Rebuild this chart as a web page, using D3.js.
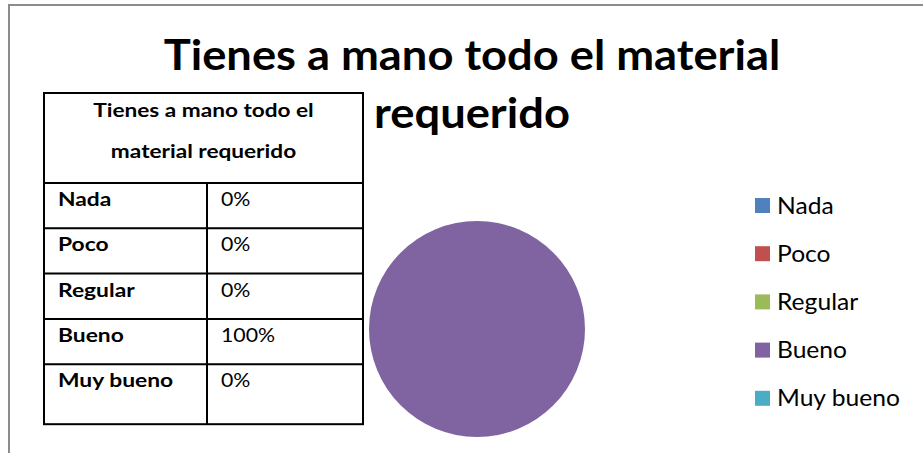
<!DOCTYPE html>
<html>
<head>
<meta charset="utf-8">
<script src="https://cdn.jsdelivr.net/npm/d3@7"></script>
<style>
  body { margin: 0; background: #fff; }
  svg { display: block; font-family: Lato, "Open Sans", sans-serif; }
</style>
</head>
<body>
<div id="chart"></div>
<script>
// datos
var categorias = ["Nada", "Poco", "Regular", "Bueno", "Muy bueno"];
var porcentajes = [0, 0, 0, 100, 0];
var colores = ["#4F81BD", "#C0504D", "#9BBB59", "#8064A2", "#4BACC6"];
var tituloLineas = ["Tienes a mano todo el material", "requerido"];
var tablaTitulo = ["Tienes a mano todo el", "material requerido"];

var width = 923,
    height = 453;

var svg = d3
    .select("#chart")
    .append("svg")
    .attr("width", width)
    .attr("height", height);

// ensancha el texto (la fuente original es mas ancha que Lato aqui)
function stretch(sel, k) {
    sel.each(function () {
        var w = this.getComputedTextLength();
        d3.select(this)
            .attr("textLength", w * k)
            .attr("lengthAdjust", "spacingAndGlyphs");
    });
}

// marco exterior
svg.append("rect")
    .attr("x", 9)
    .attr("y", 5)
    .attr("width", 930)
    .attr("height", 470)
    .attr("fill", "none")
    .attr("stroke", "#8c8c8c")
    .attr("stroke-width", 2);

// titulo
svg.append("g")
    .selectAll("text")
    .data(tituloLineas)
    .enter()
    .append("text")
    .attr("x", 472)
    .attr("y", function (d, i) { return 70 + i * 58; })
    .attr("text-anchor", "middle")
    .attr("font-size", 42)
    .attr("font-weight", "bold")
    .attr("fill", "#000")
    .text(function (d) { return d; })
    .call(stretch, 1.078);

// tabla
var tabla = { left: 44, right: 363, col: 207, top: 93, head: 183, rowH: 45.3, lastH: 60 };

var filas = d3.scaleBand()
    .domain(categorias.slice(0, -1))
    .range([tabla.head, tabla.head + tabla.rowH * (categorias.length - 1)]);

var gT = svg.append("g");

gT.append("rect")
    .attr("x", tabla.left)
    .attr("y", tabla.top)
    .attr("width", tabla.right - tabla.left)
    .attr("height", filas.range()[1] + tabla.lastH - tabla.top)
    .attr("fill", "none")
    .attr("stroke", "#000")
    .attr("stroke-width", 2);

function rowTop(d, i) {
    return tabla.head + i * tabla.rowH;
}

gT.selectAll("line.fila")
    .data(categorias)
    .enter()
    .append("line")
    .attr("class", "fila")
    .attr("x1", tabla.left)
    .attr("x2", tabla.right)
    .attr("y1", rowTop)
    .attr("y2", rowTop)
    .attr("stroke", "#000")
    .attr("stroke-width", 2);

gT.append("line")
    .attr("x1", tabla.col)
    .attr("x2", tabla.col)
    .attr("y1", tabla.head)
    .attr("y2", filas.range()[1] + tabla.lastH)
    .attr("stroke", "#000")
    .attr("stroke-width", 2);

gT.selectAll("text.head")
    .data(tablaTitulo)
    .enter()
    .append("text")
    .attr("class", "head")
    .attr("x", (tabla.left + tabla.right) / 2)
    .attr("y", function (d, i) { return 117 + i * 41; })
    .attr("text-anchor", "middle")
    .attr("font-size", 19)
    .attr("font-weight", "bold")
    .text(function (d) { return d; })
    .call(stretch, 1.19);

gT.selectAll("text.cat")
    .data(categorias)
    .enter()
    .append("text")
    .attr("class", "cat")
    .attr("x", 58)
    .attr("y", function (d, i) { return rowTop(d, i) + 23; })
    .attr("font-size", 19)
    .attr("font-weight", "bold")
    .text(function (d) { return d; })
    .call(stretch, 1.2);

gT.selectAll("text.val")
    .data(porcentajes)
    .enter()
    .append("text")
    .attr("class", "val")
    .attr("x", 221)
    .attr("y", function (d, i) { return rowTop(d, i) + 23; })
    .attr("font-size", 19)
    .text(function (d) { return d + "%"; })
    .call(stretch, 1.12);

// pastel
var pie = d3.pie().sort(null).value(function (d) { return d; });
var arc = d3.arc().innerRadius(0).outerRadius(108);

svg.append("g")
    .attr("transform", "translate(477,329)")
    .selectAll("path")
    .data(pie(porcentajes))
    .enter()
    .append("path")
    .attr("d", arc)
    .attr("fill", function (d, i) { return colores[i]; });

// leyenda
var ley = d3.scalePoint()
    .domain(categorias)
    .range([205.5, 398.3]);

var gL = svg.append("g")
    .selectAll("g")
    .data(categorias)
    .enter()
    .append("g")
    .attr("transform", function (d) { return "translate(755," + ley(d) + ")"; });

gL.append("rect")
    .attr("x", 0)
    .attr("y", -7.5)
    .attr("width", 15)
    .attr("height", 15)
    .attr("fill", function (d, i) { return colores[i]; });

gL.append("text")
    .attr("x", 22)
    .attr("y", 8)
    .attr("font-size", 23)
    .attr("fill", "#000")
    .text(function (d) { return d; })
    .call(stretch, 1.07);
</script>
</body>
</html>
